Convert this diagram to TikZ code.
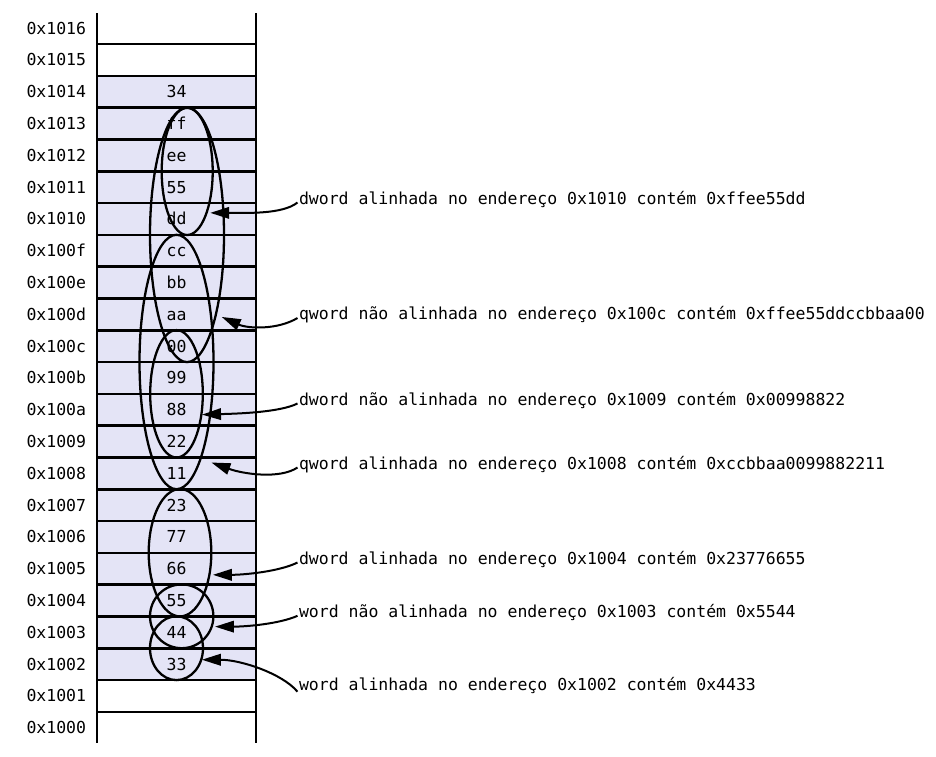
\documentclass[tikz,border=0pt]{standalone}
\usepackage{fontspec}
\setmonofont{DejaVu Sans Mono}
\usetikzlibrary{arrows.meta,shapes.geometric,calc}
\definecolor{memfill}{RGB}{228,228,246}
\begin{document}
\begin{tikzpicture}[x=1pt,y=-1pt,
  txt/.style={font=\ttfamily\fontsize{16.5}{19}\selectfont, inner sep=0pt, outer sep=0pt},
  addr/.style={txt, anchor=base west},
  val/.style={txt, anchor=base},
  lbl/.style={txt, anchor=base west},
  ell/.style={draw, ellipse, line width=2.3pt, inner sep=0pt, outer sep=0pt},
  arr/.style={line width=2pt, -{Triangle[length=19pt,width=11.5pt]}},
  gridline/.style={line width=2.6pt}
]
\useasboundingbox (0,0) rectangle (936,756);
% memory column
\fill[memfill] (97,76) rectangle (256,680);
\foreach \k in {0,...,21} \draw[gridline] (97,{44+31.8*\k}) -- (256,{44+31.8*\k});
\draw[gridline] (97,13) -- (97,743);
\draw[gridline] (256,13) -- (256,743);
% addresses
\foreach \i/\a in {0/1016,1/1015,2/1014,3/1013,4/1012,5/1011,6/1010,7/100f,8/100e,9/100d,10/100c,11/100b,12/100a,13/1009,14/1008,15/1007,16/1006,17/1005,18/1004,19/1003,20/1002,21/1001,22/1000}
  \node[addr] (a\a) at (26.5,{28+31.8*\i+6}) {0x\a};
% values
\foreach \i/\a/\v in {2/1014/34,3/1013/ff,4/1012/ee,5/1011/55,6/1010/dd,7/100f/cc,8/100e/bb,9/100d/aa,10/100c/00,11/100b/99,12/100a/88,13/1009/22,14/1008/11,15/1007/23,16/1006/77,17/1005/66,18/1004/55,19/1003/44,20/1002/33}
  \node[val] (v\a) at (176.5,{28+31.8*\i+6}) {\v};
% ellipses
\node[ell, minimum width=51pt,   minimum height=127.2pt] (e1) at (187.2,171.4) {};
\node[ell, minimum width=74pt,   minimum height=254.4pt] (e2) at (187,234.9) {};
\node[ell, minimum width=52.6pt, minimum height=127.4pt] (e3) at (176.5,393.8) {};
\node[ell, minimum width=74pt,   minimum height=254.4pt] (e4) at (176.5,362) {};
\node[ell, minimum width=62.6pt, minimum height=127.4pt] (e5) at (180,552.7) {};
\node[ell, minimum width=63.4pt, minimum height=63.8pt]  (e6) at (181.7,616.3) {};
\node[ell, minimum width=53pt,   minimum height=63.8pt]  (e7) at (176.5,648.2) {};
% labels
\node[lbl] (l1) at (299,204)   {dword alinhada no endereço 0x1010 contém 0xffee55dd};
\node[lbl] (l2) at (299,319.5) {qword não alinhada no endereço 0x100c contém 0xffee55ddccbbaa00};
\node[lbl] (l3) at (299,405)   {dword não alinhada no endereço 0x1009 contém 0x00998822};
\node[lbl] (l4) at (299,469)   {qword alinhada no endereço 0x1008 contém 0xccbbaa0099882211};
\node[lbl] (l5) at (299,564)   {dword alinhada no endereço 0x1004 contém 0x23776655};
\node[lbl] (l6) at (299,617.3) {word não alinhada no endereço 0x1003 contém 0x5544};
\node[lbl] (l7) at (299,690.7) {word alinhada no endereço 0x1002 contém 0x4433};
% arrow start points
\coordinate (s1) at ([xshift=-1.5pt,yshift=1.5pt]l1.base west);
\coordinate (s2) at ([xshift=-1.5pt,yshift=1.5pt]l2.base west);
\coordinate (s3) at ([xshift=-1.5pt,yshift=1.5pt]l3.base west);
\coordinate (s4) at ([xshift=-1.5pt,yshift=1.5pt]l4.base west);
\coordinate (s5) at ([xshift=-1.5pt,yshift=1.5pt]l5.base west);
\coordinate (s6) at ([xshift=-1.5pt,yshift=1.5pt]l6.base west);
\coordinate (s7) at ([xshift=-1.5pt,yshift=-1pt]l7.base west);
% arrows
\draw[arr, shorten >=3.7pt] (s1) .. controls ($(s1)+(-15,12)$) and ($(e1.-65.7)+(40,0)$) .. (e1.-65.7);
\draw[arr, shorten >=6.4pt] (s2) .. controls ($(s2)+(-20,12)$) and ($(e2.-70)+(32,14.4)$) .. (e2.-70);
\draw[arr, shorten >=0.7pt] (s3) .. controls ($(s3)+(-18,9)$) and ($(e3.-40.7)+(35,-1)$) .. (e3.-40.7);
\draw[arr, shorten >=11.5pt] (s4) .. controls ($(s4)+(-18,12)$) and ($(e4.-76.8)+(42.3,15.3)$) .. (e4.-76.8);
\draw[arr, shorten >=3.5pt] (s5) .. controls ($(s5)+(-18,9)$) and ($(e5.-37.3)+(35,0)$) .. (e5.-37.3);
\draw[arr, shorten >=3.3pt] (s6) .. controls ($(s6)+(-18,8)$) and ($(e6.-19.1)+(35,0)$) .. (e6.-19.1);
\draw[arr, shorten >=0.6pt] (s7) .. controls ($(s7)+(-15,-18)$) and ($(e7.-25.8)+(40,0)$) .. (e7.-25.8);
\end{tikzpicture}
\end{document}
